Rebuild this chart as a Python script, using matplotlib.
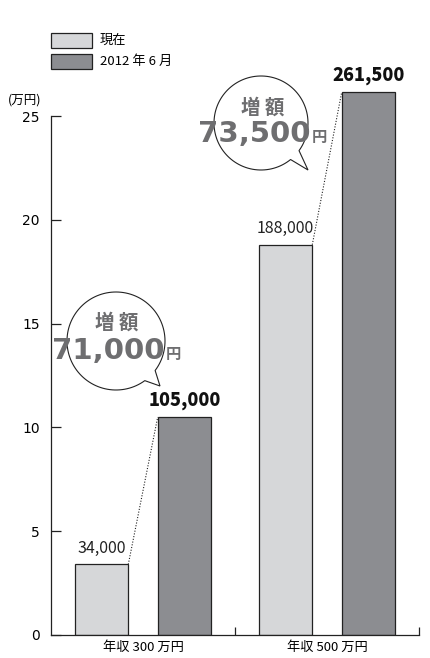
import matplotlib
matplotlib.use("Agg")
import matplotlib.pyplot as plt
import numpy as np
from matplotlib.path import Path
from matplotlib.patches import PathPatch, Rectangle
from matplotlib.transforms import Affine2D

plt.rcParams['font.family'] = ['Noto Sans CJK JP', 'DejaVu Sans']

categories = ["年収 300 万円", "年収 500 万円"]
series_names = ["現在", "2012 年 6 月"]
current = [3.4, 18.8]
june2012 = [10.5, 26.15]
current_labels = ["34,000", "188,000"]
june_labels = ["105,000", "261,500"]
increase_labels = ["71,000", "73,500"]
yticks = [0, 5, 10, 15, 20, 25]

W, H = 430, 658
fig = plt.figure(figsize=(W / 100, H / 100), dpi=100)
px = Affine2D().scale(1 / W, 1 / H) + fig.transFigure  # pixel coords, y up

ymax = 27.5
ax = fig.add_axes([51 / W, (H - 635) / H, 368 / W, ymax * 20.76 / H])
light = "#d6d7d9"
dark = "#8c8d91"
x = np.arange(len(categories))
off, bw = 0.225, 0.29
ax.bar(x - off, current, bw, color=light, edgecolor="#222222", linewidth=0.9, zorder=2)
ax.bar(x + off, june2012, bw, color=dark, edgecolor="#222222", linewidth=0.9, zorder=2)
ax.set_xlim(-0.5, 1.5)
ax.set_ylim(0, ymax)

for s in ["top", "right"]:
    ax.spines[s].set_visible(False)
ax.spines["left"].set_bounds(0, 25)
for s in ["left", "bottom"]:
    ax.spines[s].set_linewidth(0.9)
    ax.spines[s].set_color("#222222")

ax.set_yticks(yticks)
ax.set_yticklabels([str(t) for t in yticks], family="DejaVu Sans", fontsize=10)
ax.tick_params(axis="y", direction="in", length=7, width=0.9, pad=8, color="#222222")
ax.set_xticks(x)
ax.set_xticklabels(categories, fontsize=9.5)
ax.tick_params(axis="x", length=0, pad=4)
ax.set_xticks([0.5, 1.5], minor=True)
ax.tick_params(axis="x", which="minor", direction="in", length=6, width=0.9, color="#222222")

# value labels
for i in range(len(categories)):
    ax.text(x[i] - off, current[i] + 0.35, current_labels[i], ha="center", va="bottom",
            fontsize=11.5, color="#222222")
    ax.text(x[i] + off, june2012[i] + 0.35, june_labels[i], ha="center", va="bottom",
            fontsize=13, fontweight="heavy", color="#111111")
    ax.plot([x[i] - off + bw / 2, x[i] + off - bw / 2], [current[i], june2012[i]],
            linestyle=(0, (1, 1.5)), color="#222222", linewidth=0.8, zorder=3)

# legend
for j, (c, name) in enumerate(zip([light, dark], series_names)):
    ytop = 33 + j * 21
    fig.patches.append(Rectangle((51, H - ytop - 15), 41, 15, transform=px,
                                 facecolor=c, edgecolor="#222222", linewidth=0.9))
    fig.text(100 / W, (H - ytop - 7.5) / H, name, fontsize=9.5, va="center", ha="left")

fig.text(8 / W, (H - 100) / H, "(万円)", fontsize=9, va="center", ha="left")


def bubble(cx, cy, r, tip, a1, a2):
    cyu = H - cy
    angs = np.radians(np.linspace(a2, a1 + 360, 120))
    pts = [(cx + r * np.cos(a), cyu + r * np.sin(a)) for a in angs]
    pts.append((tip[0], H - tip[1]))
    pts.append(pts[0])
    codes = [Path.MOVETO] + [Path.LINETO] * (len(pts) - 2) + [Path.CLOSEPOLY]
    fig.patches.append(PathPatch(Path(pts, codes), transform=px, facecolor="white",
                                 edgecolor="#222222", linewidth=0.8, zorder=1))


gray = "#6e6e70"
bubbles = [((116, 341, 49, (160, 386), -54, -37), (117, 323), (108, 351)),
           ((261, 123, 47, (308, 170), -51, -36), (263, 108), (254, 134))]
for k, (bb, t1, t2) in enumerate(bubbles):
    bubble(*bb)
    fig.text(t1[0] / W, (H - t1[1]) / H, "増 額", fontsize=14, fontweight="bold",
             color=gray, ha="center", va="center")
    num = fig.text(t2[0] / W, (H - t2[1]) / H, increase_labels[k], fontsize=21,
                   fontweight="heavy", color=gray, ha="center", va="center",
                   family="DejaVu Sans")
    fig.texts.append(matplotlib.text.Annotation(
        "円", xy=(1.0, 0.1), xycoords=num, xytext=(1, 0), textcoords="offset points",
        fontsize=11, fontweight="bold", color=gray, ha="left", va="bottom"))
    fig.texts[-1].set_figure(fig)

fig.savefig("out.png", dpi=100)
